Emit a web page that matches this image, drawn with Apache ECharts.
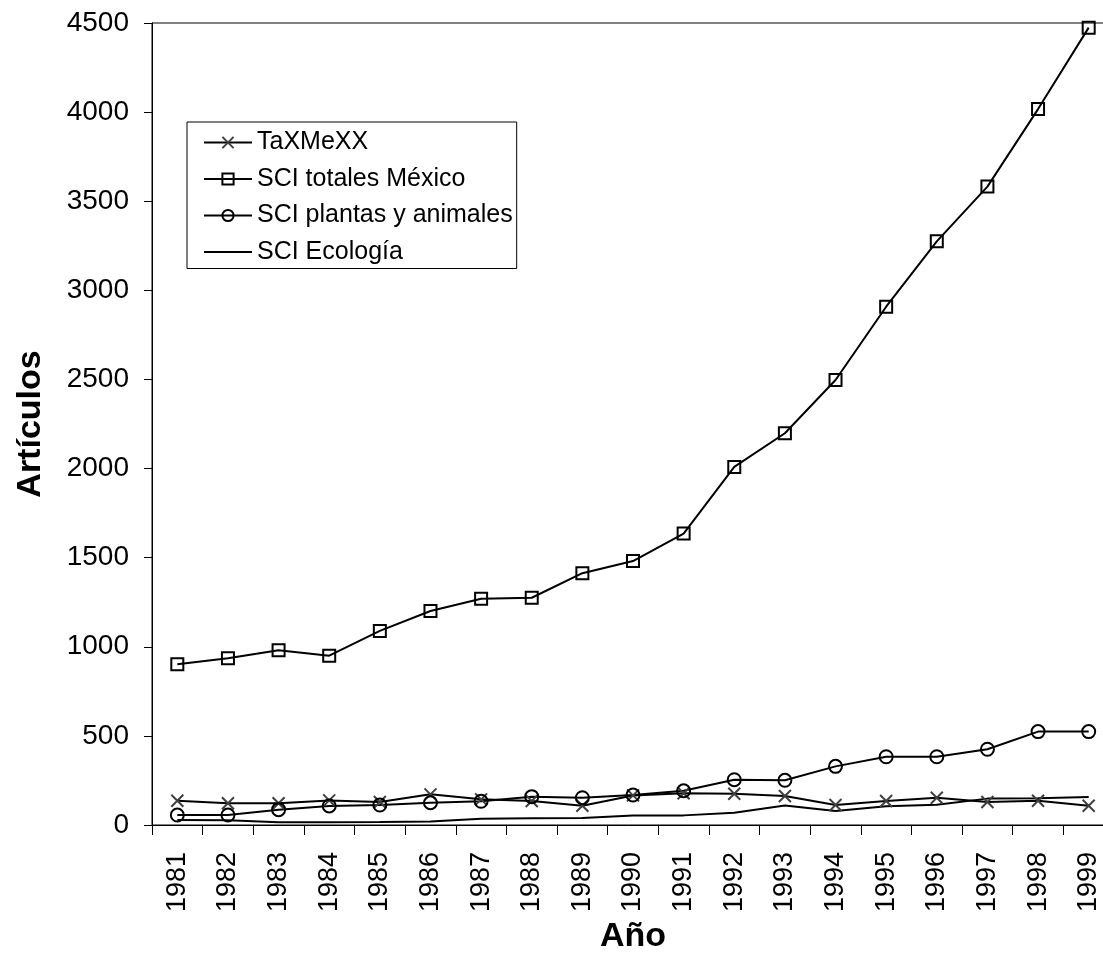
<!DOCTYPE html>
<html>
<head>
<meta charset="utf-8">
<style>
  html, body { margin: 0; padding: 0; background: #fff; }
  #myChart { width: 1103px; height: 961px; }
</style>
<script src="https://cdn.jsdelivr.net/npm/echarts@6/dist/echarts.min.js"></script>
</head>
<body>
<div id="myChart"></div>
<script>
// años
const years = ['1981', '1982', '1983', '1984', '1985', '1986', '1987', '1988', '1989', '1990',
  '1991', '1992', '1993', '1994', '1995', '1996', '1997', '1998', '1999']
// artículos por serie
const taxmexx = [136, 122, 122, 138, 129, 172, 144, 135, 108, 166, 178, 175, 163, 112, 135, 153, 129, 136, 108]
const sciTotales = [902, 935, 980, 950, 1089, 1201, 1270, 1275, 1413, 1481, 1635, 2009, 2198, 2497, 2908, 3275, 3582, 4017, 4474]
const sciPlantas = [56, 56, 86, 107, 112, 125, 133, 159, 153, 168, 192, 254, 251, 329, 383, 383, 425, 524, 524]
const sciEcologia = [28, 27, 15, 15, 17, 20, 35, 38, 39, 53, 54, 69, 110, 79, 105, 114, 148, 150, 157]
const yTicks = { min: 0, max: 4500, interval: 500 }

const font = 'Liberation Sans, Arial, sans-serif'
const xMark = 'path://M0,0L10,10M10,0L0,10'

let myChart = echarts.init(document.getElementById('myChart'))
myChart.setOption({
  animation: false,
  backgroundColor: '#fff',
  textStyle: { fontFamily: font, color: '#000' },
  grid: {
    left: 152,
    top: 23,
    width: 962,
    bottom: 136,
    outerBoundsMode: 'none',
    show: true,
    borderColor: '#000',
    borderWidth: 1
  },
  legend: {
    left: 187,
    top: 122,
    orient: 'vertical',
    backgroundColor: '#fff',
    borderColor: '#000',
    borderWidth: 1,
    padding: [8, 4, 4, 16],
    itemGap: 11.5,
    itemWidth: 48,
    itemHeight: 14,
    textStyle: { fontFamily: font, fontSize: 25, color: '#000' },
    data: [
      'TaXMeXX',
      'SCI totales México',
      'SCI plantas y animales',
      { name: 'SCI Ecología', itemStyle: { opacity: 0 } }
    ]
  },
  xAxis: {
    type: 'category',
    data: years,
    boundaryGap: true,
    name: 'Año',
    nameLocation: 'middle',
    nameGap: 92,
    nameTextStyle: { fontFamily: font, fontSize: 34, fontWeight: 'bold', color: '#000' },
    axisLine: { lineStyle: { color: '#000', width: 1 } },
    axisTick: { show: true, length: 10, lineStyle: { color: '#000' } },
    axisLabel: { rotate: 90, fontSize: 27, color: '#000', margin: 27, fontFamily: font },
    splitLine: { show: false }
  },
  yAxis: {
    type: 'value',
    min: yTicks.min,
    max: yTicks.max,
    interval: yTicks.interval,
    name: 'Artículos',
    nameLocation: 'middle',
    nameGap: 104,
    nameTextStyle: { fontFamily: font, fontSize: 34, fontWeight: 'bold', color: '#000' },
    axisLine: { show: true, lineStyle: { color: '#000', width: 1 } },
    axisTick: { show: true, length: 8, lineStyle: { color: '#000' } },
    axisLabel: {
      fontSize: 28, color: '#000', margin: 23, fontFamily: font,
      formatter: v => String(v)
    },
    splitLine: { show: false }
  },
  series: [
    {
      name: 'TaXMeXX',
      type: 'line',
      data: taxmexx,
      symbol: xMark,
      symbolSize: 12,
      lineStyle: { color: '#000', width: 2 },
      itemStyle: { color: 'rgba(0,0,0,0)', borderColor: '#404040', borderWidth: 2 }
    },
    {
      name: 'SCI totales México',
      type: 'line',
      data: sciTotales,
      symbol: 'rect',
      symbolSize: 12,
      lineStyle: { color: '#000', width: 2 },
      itemStyle: { color: 'rgba(255,255,255,0)', borderColor: '#000', borderWidth: 2 }
    },
    {
      name: 'SCI plantas y animales',
      type: 'line',
      data: sciPlantas,
      symbol: 'circle',
      symbolSize: 13,
      lineStyle: { color: '#000', width: 2 },
      itemStyle: { color: 'rgba(255,255,255,0)', borderColor: '#000', borderWidth: 2 }
    },
    {
      name: 'SCI Ecología',
      type: 'line',
      data: sciEcologia,
      symbol: 'none',
      lineStyle: { color: '#000', width: 2 },
      itemStyle: { color: '#000' }
    }
  ]
})
</script>
</body>
</html>
